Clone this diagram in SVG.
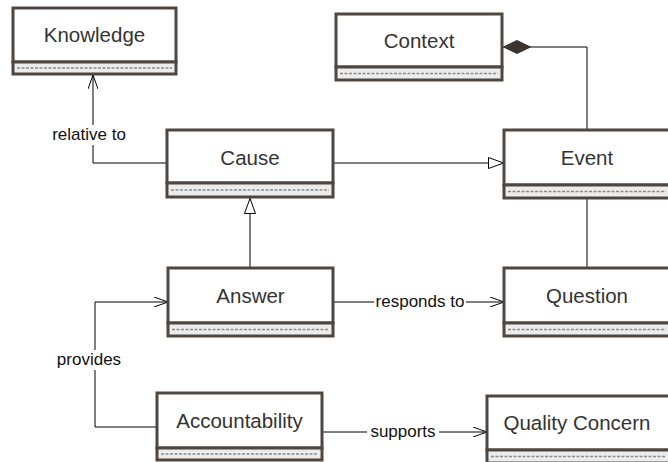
<svg xmlns="http://www.w3.org/2000/svg" width="668" height="462" viewBox="0 0 668 462">
  <style>
    .box { fill: #ffffff; stroke: #4f4640; stroke-width: 3; }
    .comp { fill: #ececec; stroke: #4f4640; stroke-width: 3; }
    .dash { stroke: #8a8a8a; stroke-width: 1.5; stroke-dasharray: 3 1.5; fill: none; }
    .name { font-family: "Liberation Sans", Arial, sans-serif; font-size: 20.5px; fill: #333333; text-anchor: middle; }
    .edge { stroke: #000000; stroke-width: 1; fill: none; }
    .lbl { font-family: "Liberation Sans", Arial, sans-serif; font-size: 17px; fill: #111111; text-anchor: middle; }
    .lblbg { fill: #ffffff; }
  </style>
  <defs>
    <marker id="open" viewBox="0 0 14 10" refX="14" refY="5" markerWidth="14" markerHeight="10" markerUnits="userSpaceOnUse" orient="auto">
      <path d="M0,0 L14,5 L0,10" fill="none" stroke="#000" stroke-width="1"/>
    </marker>
    <marker id="tri" viewBox="0 0 16 12" refX="16" refY="6" markerWidth="16" markerHeight="12" markerUnits="userSpaceOnUse" orient="auto">
      <path d="M0.5,0.5 L15.5,6 L0.5,11.5 Z" fill="#fff" stroke="#000" stroke-width="1"/>
    </marker>
    <marker id="diamond" viewBox="0 0 28 14" refX="28" refY="7" markerWidth="28" markerHeight="14" markerUnits="userSpaceOnUse" orient="auto">
      <path d="M0.5,7 L14,0.5 L27.5,7 L14,13.5 Z" fill="#3a3330" stroke="#3a3330" stroke-width="1"/>
    </marker>
  </defs>

  <!-- connectors -->
  <g id="connectors">
    <!-- Cause relative to Knowledge -->
    <path class="edge" d="M167,163 H93 V75" marker-end="url(#open)"/>
    <!-- Cause generalises Event -->
    <path class="edge" d="M333,163 H504" marker-end="url(#tri)"/>
    <!-- Answer generalises Cause -->
    <path class="edge" d="M250,268 V198" marker-end="url(#tri)"/>
    <!-- Context composition with Event -->
    <path class="edge" d="M587,130 V47 H503" marker-end="url(#diamond)"/>
    <!-- Event to Question -->
    <path class="edge" d="M587,198 V268"/>
    <!-- Answer responds to Question -->
    <path class="edge" d="M333,302 H504" marker-end="url(#open)"/>
    <!-- Accountability provides Answer -->
    <path class="edge" d="M157,427 H95 V302 H168" marker-end="url(#open)"/>
    <!-- Accountability supports Quality Concern -->
    <path class="edge" d="M322,432 H487" marker-end="url(#open)"/>

    <rect class="lblbg" x="50" y="125" width="78" height="20"/>
    <text class="lbl" x="89" y="140">relative to</text>
    <rect class="lblbg" x="374" y="292" width="92" height="20"/>
    <text class="lbl" x="420" y="307">responds to</text>
    <rect class="lblbg" x="48" y="350" width="82" height="20"/>
    <text class="lbl" x="89" y="365">provides</text>
    <rect class="lblbg" x="367" y="422" width="72" height="20"/>
    <text class="lbl" x="403" y="437">supports</text>
  </g>

  <g id="knowledge">
    <rect class="box" x="13" y="8" width="163" height="54"/>
    <rect class="comp" x="13" y="62" width="163" height="12"/>
    <line class="dash" x1="17" y1="68" x2="172" y2="68"/>
    <text class="name" x="94.5" y="42">Knowledge</text>
  </g>

  <g id="context">
    <rect class="box" x="336" y="14" width="166" height="53"/>
    <rect class="comp" x="336" y="67" width="166" height="13"/>
    <line class="dash" x1="340" y1="73.5" x2="498" y2="73.5"/>
    <text class="name" x="419" y="48">Context</text>
  </g>

  <g id="cause">
    <rect class="box" x="167" y="130" width="166" height="53"/>
    <rect class="comp" x="167" y="183" width="166" height="14"/>
    <line class="dash" x1="171" y1="190" x2="329" y2="190"/>
    <text class="name" x="250" y="165">Cause</text>
  </g>

  <g id="event">
    <rect class="box" x="504" y="130" width="166" height="55"/>
    <rect class="comp" x="504" y="185" width="166" height="13"/>
    <line class="dash" x1="508" y1="191.5" x2="666" y2="191.5"/>
    <text class="name" x="587" y="165">Event</text>
  </g>

  <g id="answer">
    <rect class="box" x="168" y="268" width="165" height="55"/>
    <rect class="comp" x="168" y="323" width="165" height="13"/>
    <line class="dash" x1="172" y1="329.5" x2="329" y2="329.5"/>
    <text class="name" x="250.5" y="303">Answer</text>
  </g>

  <g id="question">
    <rect class="box" x="504" y="268" width="166" height="55"/>
    <rect class="comp" x="504" y="323" width="166" height="13"/>
    <line class="dash" x1="508" y1="329.5" x2="666" y2="329.5"/>
    <text class="name" x="587" y="303">Question</text>
  </g>

  <g id="accountability">
    <rect class="box" x="157" y="393" width="165" height="55"/>
    <rect class="comp" x="157" y="448" width="165" height="12"/>
    <line class="dash" x1="161" y1="454" x2="318" y2="454"/>
    <text class="name" x="239.5" y="428">Accountability</text>
  </g>

  <g id="quality-concern">
    <rect class="box" x="487" y="396" width="183" height="54"/>
    <rect class="comp" x="487" y="450" width="183" height="13"/>
    <line class="dash" x1="491" y1="456.5" x2="666" y2="456.5"/>
    <text class="name" x="577" y="430">Quality Concern</text>
  </g>
</svg>
